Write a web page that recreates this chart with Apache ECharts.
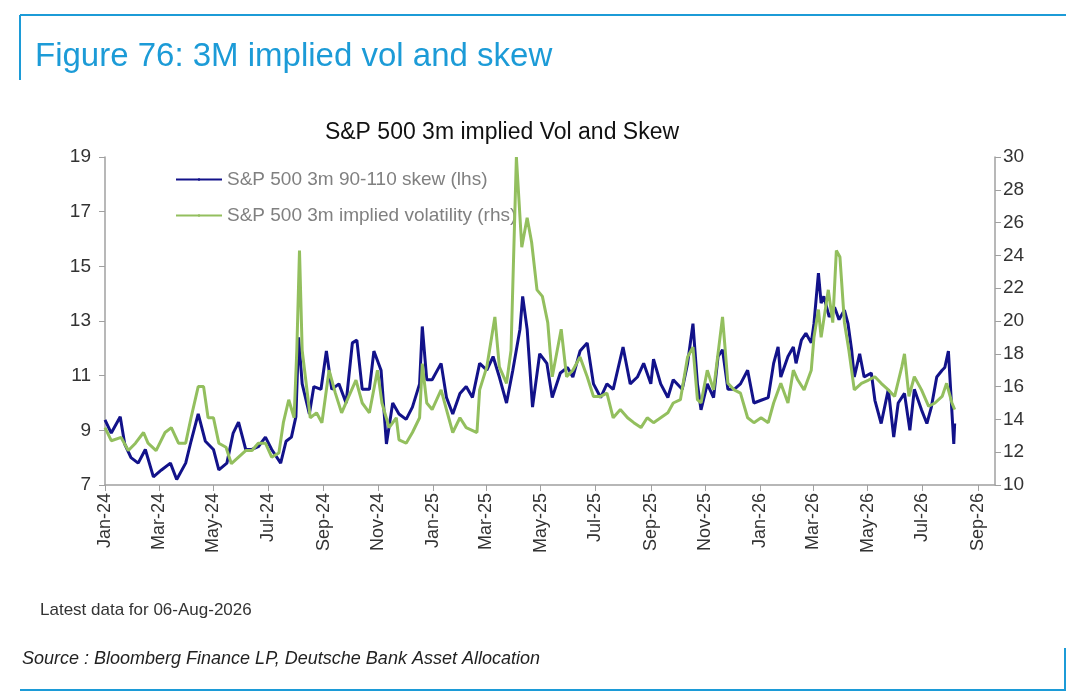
<!DOCTYPE html>
<html><head><meta charset="utf-8">
<script src="https://cdn.jsdelivr.net/npm/echarts@6/dist/echarts.min.js"></script>
<style>html,body{margin:0;padding:0;background:#fff}#c{width:1080px;height:698px}</style>
</head><body><div id="c"></div>
<script>
// days since 2024-01-01
const skewDays = [0,7,17,22,29,37,45,54,63,73,80,90,96,104,112,121,127,136,143,149,157,164,171,179,186,196,202,208,213,216,220,228,233,241,247,253,261,269,276,281,287,295,300,308,314,321,
328,336,343,351,354,359,365,375,381,388,396,403,410,418,426,433,440,448,455,463,466,471,477,485,493,499,508,516,522,530,538,545,553,560,567,578,586,594,601,609,612,620,628,634,644,650,656,661,
665,672,679,684,689,695,702,709,717,724,732,740,746,751,754,762,768,771,777,782,788,791,796,799,802,808,814,819,825,829,833,836,842,847,855,859,866,874,880,885,892,898,903,911,917,922,928,934,937,941,944,947,948];
const skewVals = [9.38,8.9,9.5,8.5,8.0,7.8,8.3,7.3,7.55,7.8,7.2,7.8,8.6,9.6,8.6,8.3,7.55,7.8,8.9,9.3,8.3,8.3,8.4,8.75,8.3,7.8,8.6,8.75,9.5,12.4,10.7,9.6,10.6,10.5,11.9,10.5,10.7,10.0,12.2,12.3,10.5,10.5,11.9,11.2,8.5,10.0,
9.6,9.4,9.85,10.7,12.8,10.85,10.85,11.45,10.2,9.6,10.35,10.6,10.2,11.45,11.2,11.7,10.95,10.0,11.2,12.7,13.9,12.7,9.85,11.8,11.45,10.2,11.1,11.3,10.95,11.9,12.2,10.7,10.2,10.7,10.5,12.05,10.7,10.95,11.45,10.7,11.6,10.7,10.2,10.85,10.5,11.45,12.9,10.7,
9.75,10.7,10.2,11.7,11.95,10.5,10.5,10.7,11.2,10.0,10.1,10.2,11.45,12.05,10.95,11.7,12.05,11.45,12.3,12.55,12.2,12.9,14.75,13.65,13.9,13.15,13.5,13.05,13.4,12.9,11.95,10.95,11.8,10.95,11.1,10.1,9.25,10.5,8.75,10.0,10.35,9.0,10.5,9.75,9.25,9.85,10.95,11.2,11.3,11.9,10.2,8.5,9.25];
const volDays = [0,7,18,26,34,43,48,57,67,74,82,90,96,104,110,115,121,127,135,141,149,157,164,171,179,186,194,199,205,211,214,217,220,224,229,236,242,250,257,264,272,280,287,295,304,309,317,325,
328,336,343,351,354,359,365,375,381,388,396,403,415,418,426,435,440,448,453,459,465,471,476,482,488,494,499,509,515,522,530,538,545,553,560,567,575,583,590,598,605,612,620,628,634,642,650,656,661,
665,672,679,689,695,702,709,717,724,732,740,746,754,762,768,773,780,788,791,796,799,807,812,816,820,825,830,836,844,852,859,866,874,881,889,892,897,903,911,919,926,934,939,945,948];
const volVals = [13.5,12.7,12.9,12.1,12.55,13.2,12.55,12.1,13.2,13.5,12.55,12.55,14.1,16.0,16.0,14.1,14.1,12.55,12.3,11.3,11.7,12.1,12.1,12.55,12.55,11.7,11.95,13.8,15.2,14.1,18.2,24.3,18.2,16.4,14.1,14.4,13.8,17.0,15.6,14.4,15.4,16.4,15.0,14.4,17.0,15.0,13.5,14.1,
12.75,12.55,13.2,14.1,17.4,15.0,14.6,15.8,14.6,13.2,14.1,13.5,13.2,15.8,17.2,20.25,17.2,16.2,18.2,30,24.5,26.3,24.8,21.9,21.5,19.9,16.6,19.5,16.6,17.0,17.8,16.6,15.4,15.4,15.6,14.1,14.6,14.1,13.8,13.5,14.1,13.8,14.1,14.4,15.0,15.2,17.8,18.4,15.2,
15.0,17.0,15.8,20.25,16.2,15.8,15.6,14.1,13.8,14.1,13.8,15.0,16.2,15.0,17.0,16.4,15.8,17.0,19.0,20.7,19.0,21.9,19.9,24.3,23.9,19.9,18.2,15.8,16.2,16.4,16.6,16.2,15.8,15.4,17.2,18.0,15.4,16.6,15.8,14.8,15.0,15.4,16.2,15.0,14.6];
const monthNames = ['Jan','Feb','Mar','Apr','May','Jun','Jul','Aug','Sep','Oct','Nov','Dec'];
const DAY = 86400000, T0 = Date.UTC(2024,0,1);
const toPts = (d,v) => d.map((x,i)=>[T0 + x*DAY, v[i]]);
const ticks = [];
for (let y=2024,m=0; y<2026 || (y===2026 && m<=8); m+=2){ if(m>11){m-=12;y++;} if(y===2026&&m>8)break; ticks.push(Date.UTC(y,m,1)); }
const fmt = v => { const d=new Date(v); return monthNames[d.getUTCMonth()]+'-'+String(d.getUTCFullYear()).slice(2); };
const chart = echarts.init(document.getElementById('c'));
const axisCol = '#a0a0a0', txt = '#333';
chart.setOption({
  animation:false,
  textStyle:{fontFamily:'Liberation Sans, Arial, sans-serif'},
  title:{text:'S&P 500 3m implied Vol and Skew',left:497,top:116,textAlign:'center',
    textStyle:{fontSize:23,fontWeight:'normal',color:'#111'}},
  legend:{orient:'vertical',left:170,top:165,itemGap:17,itemWidth:46,itemHeight:3,
    textStyle:{fontSize:19,color:'#808080'},data:['S&P 500 3m 90-110 skew (lhs)','S&P 500 3m implied volatility (rhs)']},
  grid:{left:105,right:85,top:157,bottom:213},
  xAxis:{type:'value',min:T0,max:Date.UTC(2026,8,20),
    axisLine:{lineStyle:{color:axisCol,width:1.5}},splitLine:{show:false},
    axisTick:{customValues:ticks,length:6,lineStyle:{color:axisCol}},
    axisLabel:{customValues:ticks,rotate:90,formatter:fmt,fontSize:18,color:txt,margin:8}},
  yAxis:[
    {type:'value',min:7,max:19,interval:2,position:'left',splitLine:{show:false},
      axisLine:{show:true,lineStyle:{color:axisCol,width:1.5}},axisTick:{show:true,length:6,lineStyle:{color:axisCol}},
      axisLabel:{fontSize:19,color:txt,margin:14}},
    {type:'value',min:10,max:30,interval:2,position:'right',splitLine:{show:false},
      axisLine:{show:true,lineStyle:{color:axisCol,width:1.5}},axisTick:{show:true,length:6,lineStyle:{color:axisCol}},
      axisLabel:{fontSize:19,color:txt,margin:8}}
  ],
  series:[
    {name:'S&P 500 3m 90-110 skew (lhs)',type:'line',yAxisIndex:0,symbol:'none',data:toPts(skewDays,skewVals),
      lineStyle:{color:'#12128a',width:3},itemStyle:{color:'#12128a'},z:3},
    {name:'S&P 500 3m implied volatility (rhs)',type:'line',yAxisIndex:1,symbol:'none',data:toPts(volDays,volVals),
      lineStyle:{color:'#93bf5e',width:3},itemStyle:{color:'#93bf5e'},z:4}
  ],
  graphic:[
    {type:'line',shape:{x1:20,y1:15,x2:1066,y2:15},style:{stroke:'#1c9bd7',lineWidth:2}},
    {type:'line',shape:{x1:20,y1:15,x2:20,y2:80},style:{stroke:'#1c9bd7',lineWidth:2}},
    {type:'line',shape:{x1:20,y1:690,x2:1066,y2:690},style:{stroke:'#1c9bd7',lineWidth:2}},
    {type:'line',shape:{x1:1065,y1:648,x2:1065,y2:690},style:{stroke:'#1c9bd7',lineWidth:2}},
    {type:'text',left:35,top:40,style:{text:'Figure 76: 3M implied vol and skew',fontSize:33,fill:'#1c9bd7',fontFamily:'Liberation Sans, Arial, sans-serif'}},
    {type:'text',left:40,top:602,style:{text:'Latest data for 06-Aug-2026',fontSize:17,fill:'#333',fontFamily:'Liberation Sans, Arial, sans-serif'}},
    {type:'text',left:22,top:650,style:{text:'Source : Bloomberg Finance LP, Deutsche Bank Asset Allocation',fontSize:18,fontStyle:'italic',fill:'#222',fontFamily:'Liberation Sans, Arial, sans-serif'}}
  ]
});
</script></body></html>
